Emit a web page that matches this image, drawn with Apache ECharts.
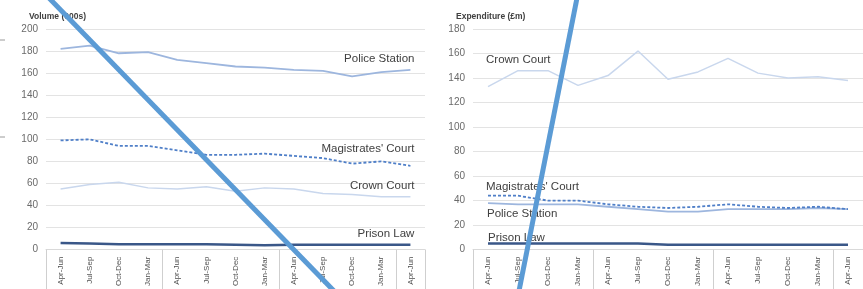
<!DOCTYPE html>
<html>
<head>
	<meta charset="utf-8">
	<title>Legal aid volume and expenditure</title>
	<style>
		html, body { margin: 0; padding: 0; background: #fff; }
		#chart { width: 863px; height: 289px; }
	</style>
</head>
<body>
	<div id="chart"></div>
	<script type="text/javascript" src="https://cdn.jsdelivr.net/npm/echarts@6/dist/echarts.min.js"></script>
	<script type="text/javascript">
	// quarters, grouped in years of four
	var quarters = ['Apr-Jun', 'Jul-Sep', 'Oct-Dec', 'Jan-Mar', 'Apr-Jun', 'Jul-Sep', 'Oct-Dec', 'Jan-Mar',
		'Apr-Jun', 'Jul-Sep', 'Oct-Dec', 'Jan-Mar', 'Apr-Jun'];

	// volume (000s)
	var volPolice = [182, 185, 178, 179, 172, 169, 166, 165, 163, 162, 157, 161, 163];
	var volMags = [99, 100, 94, 94, 90, 86, 86, 87, 85, 83, 78, 80, 76];
	var volCrown = [55, 59, 61, 56, 55, 57, 53, 56, 55, 51, 50, 48, 48];
	var volPrison = [6, 5.5, 5, 5, 5, 5, 4.5, 4, 4.5, 4.5, 4.5, 4.5, 4.5];

	// expenditure (£m)
	var expCrown = [133, 146, 146, 134, 142, 162, 139, 145, 156, 144, 140, 141, 138];
	var expMags = [44, 44, 40, 40, 37, 35, 34, 35, 37, 35, 34, 35, 33];
	var expPolice = [38, 37, 37, 37, 35, 33, 31, 31, 33, 33, 33, 34, 33];
	var expPrison = [5, 5, 5, 5, 5, 5, 4, 4, 4, 4, 4, 4, 4];

	var volTicks = [0, 200, 20];
	var expTicks = [0, 180, 20];

	var FONT = '"Liberation Sans", Arial, sans-serif';
	var cPolice = '#9db6de', cMags = '#4f7fc8', cCrown = '#c9d7ed', cPrison = '#3a5788';

	function xAxis(idx) {
		return {
			type: 'category', gridIndex: idx, data: quarters, boundaryGap: true,
			axisLine: { lineStyle: { color: '#d9d9d9' } },
			axisTick: {
				show: true, length: 45, alignWithLabel: false,
				interval: function (i) { return i % 4 === 0; },
				lineStyle: { color: '#cfcfcf', width: 1 }
			},
			axisLabel: { rotate: 90, interval: 0, margin: 7, fontSize: 8, color: '#505050', fontFamily: FONT }
		};
	}

	function yAxis(idx, t) {
		return {
			type: 'value', gridIndex: idx, min: t[0], max: t[1], interval: t[2],
			axisLine: { show: false }, axisTick: { show: false },
			splitLine: { lineStyle: { color: '#e3e3e3' } },
			axisLabel: { fontSize: 10, color: '#6a6a6a', margin: 8, fontFamily: FONT }
		};
	}

	// one line, labelled by name at a single point
	function line(idx, name, data, color, width, dashed, at, pos, align, offset) {
		return {
			type: 'line', name: name, xAxisIndex: idx, yAxisIndex: idx, data: data,
			showSymbol: true, symbol: 'circle', symbolSize: 0, animation: false,
			itemStyle: { color: color },
			lineStyle: { color: color, width: width, type: dashed ? [3, 2] : 'solid' },
			label: {
				show: true, position: pos, align: align, offset: offset,
				fontSize: 11.5, color: '#404040', fontFamily: FONT,
				formatter: function (p) { return p.dataIndex === at ? name : ''; }
			}
		};
	}

	var last = quarters.length - 1;
	var chart = echarts.init(document.getElementById('chart'));
	chart.setOption({
		animation: false,
		textStyle: { fontFamily: FONT },
		title: [
			{ text: 'Volume (000s)', left: 24, top: 7, textStyle: { fontSize: 8.5, fontWeight: 'bold', color: '#404040' } },
			{ text: 'Expenditure (£m)', left: 451, top: 7, textStyle: { fontSize: 8.5, fontWeight: 'bold', color: '#404040' } }
		],
		grid: [
			{ left: 46, right: 438, top: 29, bottom: 39 },
			{ left: 473, right: 0, top: 29, bottom: 39 }
		],
		xAxis: [xAxis(0), xAxis(1)],
		yAxis: [yAxis(0, volTicks), yAxis(1, expTicks)],
		series: [
			line(0, 'Crown Court', volCrown, cCrown, 1.5, false, last, 'top', 'right', [4, 0]),
			line(0, 'Police Station', volPolice, cPolice, 1.8, false, last, 'top', 'right', [4, 0]),
			line(0, 'Magistrates\' Court', volMags, cMags, 1.8, true, last, 'top', 'right', [4, -6]),
			line(0, 'Prison Law', volPrison, cPrison, 2.5, false, last, 'top', 'right', [4, 0]),
			line(1, 'Crown Court', expCrown, cCrown, 1.5, false, 0, 'top', 'left', [-2, -16]),
			line(1, 'Police Station', expPolice, cPolice, 1.8, false, 0, 'bottom', 'left', [-1, 0]),
			line(1, 'Magistrates\' Court', expMags, cMags, 1.8, true, 0, 'top', 'left', [-2, 2]),
			line(1, 'Prison Law', expPrison, cPrison, 2.5, false, 0, 'top', 'left', [0, 5])
		],
		graphic: [
			{ type: 'line', shape: { x1: 0, y1: 40, x2: 5, y2: 40 }, style: { stroke: '#9a9a9a', lineWidth: 1 } },
			{ type: 'line', shape: { x1: 0, y1: 137, x2: 5, y2: 137 }, style: { stroke: '#9a9a9a', lineWidth: 1 } },
			// strike-through strokes drawn over the picture
			{ type: 'line', z: 100, shape: { x1: 49, y1: -2, x2: 334, y2: 291 }, style: { stroke: '#5b9bd5', lineWidth: 5 } },
			{ type: 'line', z: 100, shape: { x1: 577, y1: -2, x2: 519, y2: 291 }, style: { stroke: '#5b9bd5', lineWidth: 5 } }
		]
	});
	</script>
</body>
</html>
